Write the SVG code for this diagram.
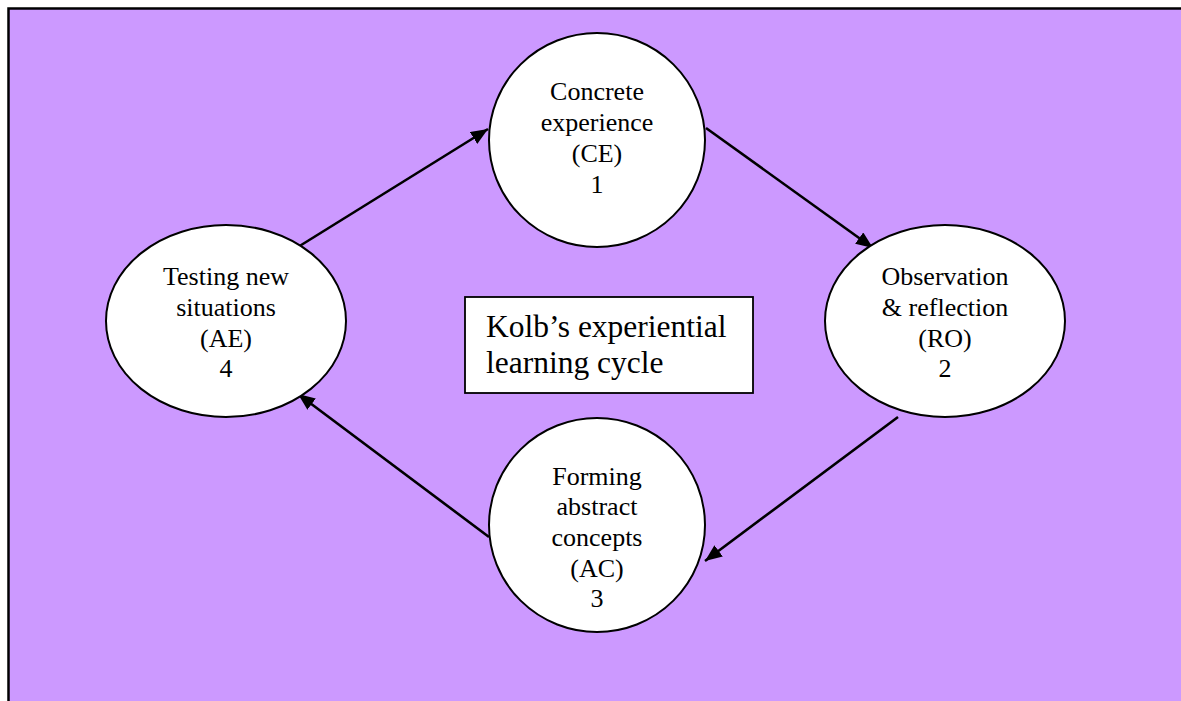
<svg xmlns="http://www.w3.org/2000/svg" width="1181" height="701" viewBox="0 0 1181 701">
  <style>
    .stage { fill: #CC99FF; stroke: #000000; stroke-width: 2.5; }
    .node { fill: #FFFFFF; stroke: #000000; stroke-width: 2; }
    .label { font-family: "Liberation Serif", "Times New Roman", serif; font-size: 26px; fill: #000000; text-anchor: middle; }
    .title-box { fill: #FFFFFF; stroke: #000000; stroke-width: 1.8; }
    .title { font-family: "Liberation Serif", "Times New Roman", serif; font-size: 31.5px; fill: #000000; }
    .edge { fill: none; stroke: #000000; stroke-width: 2.6; marker-end: url(#arrow); }
  </style>
  <defs>
    <marker id="arrow" markerUnits="userSpaceOnUse" markerWidth="18" markerHeight="14" refX="17" refY="7" orient="auto">
      <path d="M0,0 L17,7 L0,14 z" fill="#000000"/>
    </marker>
  </defs>

  <!-- background panel -->
  <rect class="stage" x="8.5" y="8.5" width="1190" height="710"/>

  <!-- cycle connectors -->
  <g id="connectors">
    <line class="edge" x1="298" y1="247" x2="488" y2="129"/>
    <line class="edge" x1="706" y1="128" x2="873" y2="248"/>
    <line class="edge" x1="898" y1="417" x2="705" y2="561"/>
    <line class="edge" x1="489" y1="537" x2="298" y2="394"/>
  </g>

  <g id="node-ce">
    <ellipse class="node" cx="597" cy="140" rx="108" ry="107"/>
    <text class="label" x="597" y="100">Concrete</text>
    <text class="label" x="597" y="131">experience</text>
    <text class="label" x="597" y="162">(CE)</text>
    <text class="label" x="597" y="193">1</text>
  </g>

  <g id="node-ro">
    <ellipse class="node" cx="945" cy="321" rx="120" ry="96"/>
    <text class="label" x="945" y="285">Observation</text>
    <text class="label" x="945" y="316">&amp; reflection</text>
    <text class="label" x="945" y="347">(RO)</text>
    <text class="label" x="945" y="377">2</text>
  </g>

  <g id="node-ac">
    <ellipse class="node" cx="597" cy="525" rx="108" ry="107"/>
    <text class="label" x="597" y="485">Forming</text>
    <text class="label" x="597" y="515">abstract</text>
    <text class="label" x="597" y="546">concepts</text>
    <text class="label" x="597" y="577">(AC)</text>
    <text class="label" x="597" y="607">3</text>
  </g>

  <g id="node-ae">
    <ellipse class="node" cx="226" cy="321" rx="120" ry="96"/>
    <text class="label" x="226" y="285">Testing new</text>
    <text class="label" x="226" y="316">situations</text>
    <text class="label" x="226" y="347">(AE)</text>
    <text class="label" x="226" y="377">4</text>
  </g>

  <g id="title">
    <rect class="title-box" x="465" y="297" width="288" height="96"/>
    <text class="title" x="486" y="337">Kolb’s experiential</text>
    <text class="title" x="486" y="373">learning cycle</text>
  </g>
</svg>
